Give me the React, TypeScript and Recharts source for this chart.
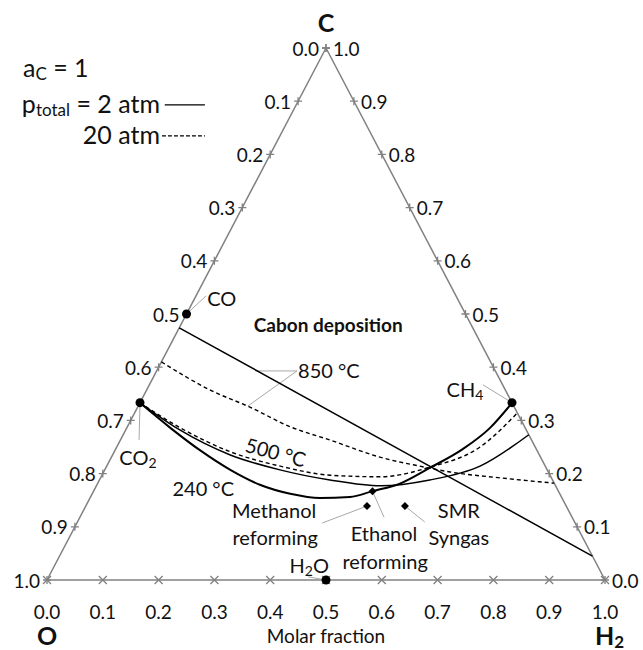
import React from "react"
import {
  ComposedChart,
  XAxis,
  YAxis,
  Line,
  Scatter,
  ReferenceLine,
  ReferenceDot,
} from "recharts"

// Ternary compositions are given as [C fraction, H2 fraction]; O makes up the rest.
const tickValues = [0, 0.1, 0.2, 0.3, 0.4, 0.5, 0.6, 0.7, 0.8, 0.9, 1.0]
const tickText = ["0.0", "0.1", "0.2", "0.3", "0.4", "0.5", "0.6", "0.7", "0.8", "0.9", "1.0"]

const species = ["CO", "CO2", "CH4", "H2O"]
const speciesC = [0.5, 1 / 3, 1 / 3, 0]
const speciesH = [0, 0, 2 / 3, 0.5]

const feeds = ["Methanol reforming", "Ethanol reforming", "SMR Syngas"]
const feedC = [0.139, 1 / 6, 0.139]
const feedH = [0.504, 0.5, 0.572]

// carbon deposition boundaries, a_C = 1
const t850p2C = [0.474, 0.045]
const t850p2H = [0, 0.955]
const t850p20C = [0.41, 0.357, 0.325, 0.288, 0.263, 0.231, 0.214, 0.203, 0.192, 0.182]
const t850p20H = [0, 0.114, 0.201, 0.292, 0.376, 0.481, 0.561, 0.621, 0.716, 0.818]
const t500p2C = [0.333, 0.282, 0.235, 0.207, 0.188, 0.177, 0.188, 0.214, 0.273]
const t500p2H = [0, 0.097, 0.211, 0.314, 0.413, 0.509, 0.592, 0.669, 0.727]
const t500p20C = [0.333, 0.286, 0.241, 0.214, 0.197, 0.194, 0.212, 0.25, 0.314]
const t500p20H = [0, 0.096, 0.208, 0.311, 0.409, 0.5, 0.58, 0.651, 0.686]
const t240p2C = [0.333, 0.286, 0.244, 0.207, 0.179, 0.162, 0.154, 0.156, 0.167, 0.181, 0.211, 0.246, 0.286, 0.333]
const t240p2H = [0, 0.078, 0.152, 0.225, 0.292, 0.355, 0.412, 0.465, 0.5, 0.542, 0.581, 0.622, 0.651, 0.667]

const FONT = "Lato, 'Open Sans', sans-serif"
const AXIS = "#808080"
const LEADER = "#a8a8a8"

// O at (0,0), H2 at (1,0), C at (0.5,1)
function toXY(c: number, h: number) {
  return { x: h + c / 2, y: c }
}
function zip(cs: number[], hs: number[]) {
  return cs.map((c, i) => toXY(c, hs[i]))
}

const leftTicks = tickValues.map((t, i) => ({ ...toXY(1 - t, 0), label: tickText[i] }))
const rightTicks = tickValues.map((t, i) => ({ ...toXY(t, 1 - t), label: tickText[i] }))
const bottomTicks = tickValues.map((t, i) => ({ ...toXY(0, t), label: tickText[i] }))

const speciesPts = species.map((s, i) => ({ ...toXY(speciesC[i], speciesH[i]), name: s }))
const feedPts = feeds.map((f, i) => ({ ...toXY(feedC[i], feedH[i]), name: f }))

const curves = [
  { key: "850-2", data: zip(t850p2C, t850p2H), dash: undefined, width: 1.5, type: "linear" },
  { key: "850-20", data: zip(t850p20C, t850p20H), dash: "4 3", width: 1.4, type: "monotone" },
  { key: "500-2", data: zip(t500p2C, t500p2H), dash: undefined, width: 1.5, type: "monotone" },
  { key: "500-20", data: zip(t500p20C, t500p20H), dash: "4 3", width: 1.4, type: "monotone" },
  { key: "240-2", data: zip(t240p2C, t240p2H), dash: undefined, width: 2, type: "monotone" },
]

const tickLabel = (p: any, dx: number, dy: number, anchor: string) => (
  <text
    x={p.cx + dx}
    y={p.cy + dy}
    textAnchor={anchor}
    dominantBaseline="central"
    fontFamily={FONT}
    fontSize={19}
    fill="#111"
  >
    {p.payload.label}
  </text>
)

const plusTick = (side: "left" | "right") => (p: any) => (
  <g>
    <path
      d={`M${p.cx - 4},${p.cy}H${p.cx + 4}M${p.cx},${p.cy - 4}V${p.cy + 4}`}
      stroke={AXIS}
      strokeWidth={1.3}
    />
    {side === "left" ? tickLabel(p, -7, 0, "end") : tickLabel(p, 7, 0, "start")}
  </g>
)

const crossTick = (p: any) => (
  <g>
    <path
      d={`M${p.cx - 4},${p.cy - 4}L${p.cx + 4},${p.cy + 4}M${p.cx - 4},${p.cy + 4}L${p.cx + 4},${p.cy - 4}`}
      stroke={AXIS}
      strokeWidth={1.3}
    />
    {tickLabel(p, 0, 31, "middle")}
  </g>
)

const dotShape = (p: any) => <circle cx={p.cx} cy={p.cy} r={4.5} fill="#000" />
const diamondShape = (p: any) => (
  <path d={`M${p.cx},${p.cy - 4}L${p.cx + 4},${p.cy}L${p.cx},${p.cy + 4}L${p.cx - 4},${p.cy}Z`} fill="#000" />
)

type NoteOpts = { anchor?: string; size?: number; weight?: number; rotate?: number }

function note(key: string, x: number, y: number, content: React.ReactNode, o: NoteOpts = {}) {
  return (
    <ReferenceDot
      key={key}
      x={x}
      y={y}
      r={1}
      ifOverflow="visible"
      shape={(p: any) => (
        <text
          x={p.cx}
          y={p.cy}
          textAnchor={o.anchor ?? "middle"}
          dominantBaseline="central"
          fontFamily={FONT}
          fontSize={o.size ?? 20}
          fontWeight={o.weight ?? 400}
          fill="#111"
          transform={o.rotate ? `rotate(${o.rotate} ${p.cx} ${p.cy})` : undefined}
        >
          {content}
        </text>
      )}
    />
  )
}

function leader(key: string, from: { x: number; y: number }, to: { x: number; y: number }) {
  return (
    <ReferenceLine
      key={key}
      segment={[from, to]}
      stroke={LEADER}
      strokeWidth={1}
      ifOverflow="visible"
    />
  )
}

// base text, lowered subscript, then the rest back on the baseline
const withSub = (base: string, s: string, rest: string, size = 14, shift = 5) => (
  <>
    {base}
    <tspan fontSize={size} dy={shift}>{s}</tspan>
    {rest ? <tspan dy={-shift}>{rest}</tspan> : null}
  </>
)

export default function App() {
  const O = toXY(0, 0)
  const Hv = toXY(0, 1)
  const Cv = toXY(1, 0)
  return (
    <div style={{ position: "absolute", left: 0, top: 0, background: "#fff" }}>
      <ComposedChart width={643} height={650} margin={{ top: 48, right: 38, bottom: 70, left: 47 }}>
        <XAxis type="number" dataKey="x" domain={[0, 1]} hide />
        <YAxis type="number" dataKey="y" domain={[0, 1]} hide />

        {/* triangle frame */}
        <ReferenceLine segment={[O, Hv]} stroke={AXIS} strokeWidth={1.5} ifOverflow="visible" />
        <ReferenceLine segment={[O, Cv]} stroke={AXIS} strokeWidth={1.5} ifOverflow="visible" />
        <ReferenceLine segment={[Hv, Cv]} stroke={AXIS} strokeWidth={1.5} ifOverflow="visible" />

        {/* leader lines */}
        {leader("l-co", speciesPts[0], { x: 0.285, y: 0.534 })}
        {leader("l-co2", speciesPts[1], { x: 0.165, y: 0.263 })}
        {leader("l-ch4", speciesPts[2], { x: 0.781, y: 0.367 })}
        {leader("l-h2o", speciesPts[3], { x: 0.468, y: 0.006 })}
        {leader("l-meoh", feedPts[0], { x: 0.493, y: 0.107 })}
        {leader("l-etoh", feedPts[1], { x: 0.604, y: 0.118 })}
        {leader("l-smr", feedPts[2], { x: 0.677, y: 0.109 })}
        {leader("l-850a", { x: 0.448, y: 0.393 }, { x: 0.373, y: 0.393 })}
        {leader("l-850b", { x: 0.448, y: 0.393 }, { x: 0.36, y: 0.327 })}

        {curves.map((c) => (
          <Line
            key={c.key}
            data={c.data}
            dataKey="y"
            type={c.type as any}
            stroke="#000"
            strokeWidth={c.width}
            strokeDasharray={c.dash}
            dot={false}
            activeDot={false}
            isAnimationActive={false}
          />
        ))}

        <Scatter data={leftTicks} shape={plusTick("left")} isAnimationActive={false} />
        <Scatter data={rightTicks} shape={plusTick("right")} isAnimationActive={false} />
        <Scatter data={bottomTicks} shape={crossTick} isAnimationActive={false} />
        <Scatter data={speciesPts} shape={dotShape} isAnimationActive={false} />
        <Scatter data={feedPts} shape={diamondShape} isAnimationActive={false} />

        {/* legend */}
        {note("a", -0.043, 0.964, withSub("a", "C", " = 1", 17, 6), { anchor: "start", size: 25 })}
        {note("p2", 0.2025, 0.897, withSub("p", "total", " = 2 atm", 17, 6), { anchor: "end", size: 25 })}
        {note("p20", 0.2025, 0.838, "20 atm", { anchor: "end", size: 25 })}
        <ReferenceLine segment={[{ x: 0.211, y: 0.893 }, { x: 0.283, y: 0.893 }]} stroke="#000" strokeWidth={1.3} ifOverflow="visible" />
        <ReferenceLine segment={[{ x: 0.206, y: 0.835 }, { x: 0.283, y: 0.835 }]} stroke="#000" strokeWidth={1.3} strokeDasharray="4 2" ifOverflow="visible" />

        {/* corner titles */}
        {note("C", 0.5, 1.049, "C", { size: 25, weight: 700 })}
        {note("O", 0, -0.103, "O", { size: 25, weight: 700 })}
        {note("H2", 1.008, -0.103, withSub("H", "2", "", 17, 6), { size: 25, weight: 700 })}
        {note("mf", 0.5, -0.105, "Molar fraction", { size: 19 })}

        {/* annotations */}
        {note("dep", 0.504, 0.481, "Cabon deposition", { size: 19, weight: 700 })}
        {note("co", 0.287, 0.53, "CO", { anchor: "start" })}
        {note("co2", 0.163, 0.231, withSub("CO", "2", ""))}
        {note("ch4", 0.749, 0.359, withSub("CH", "4", ""))}
        {note("h2o", 0.47, 0.028, withSub("H", "2", "O"))}
        {note("t850", 0.45, 0.395, "850 °C", { anchor: "start" })}
        {note("t500", 0.41, 0.241, "500 °C", { rotate: 15 })}
        {note("t240", 0.28, 0.173, "240 °C")}
        {note("meoh1", 0.407, 0.132, "Methanol")}
        {note("meoh2", 0.409, 0.081, "reforming")}
        {note("etoh1", 0.604, 0.088, "Ethanol")}
        {note("etoh2", 0.606, 0.036, "reforming")}
        {note("smr1", 0.738, 0.132, "SMR")}
        {note("smr2", 0.738, 0.081, "Syngas")}
      </ComposedChart>
    </div>
  )
}
